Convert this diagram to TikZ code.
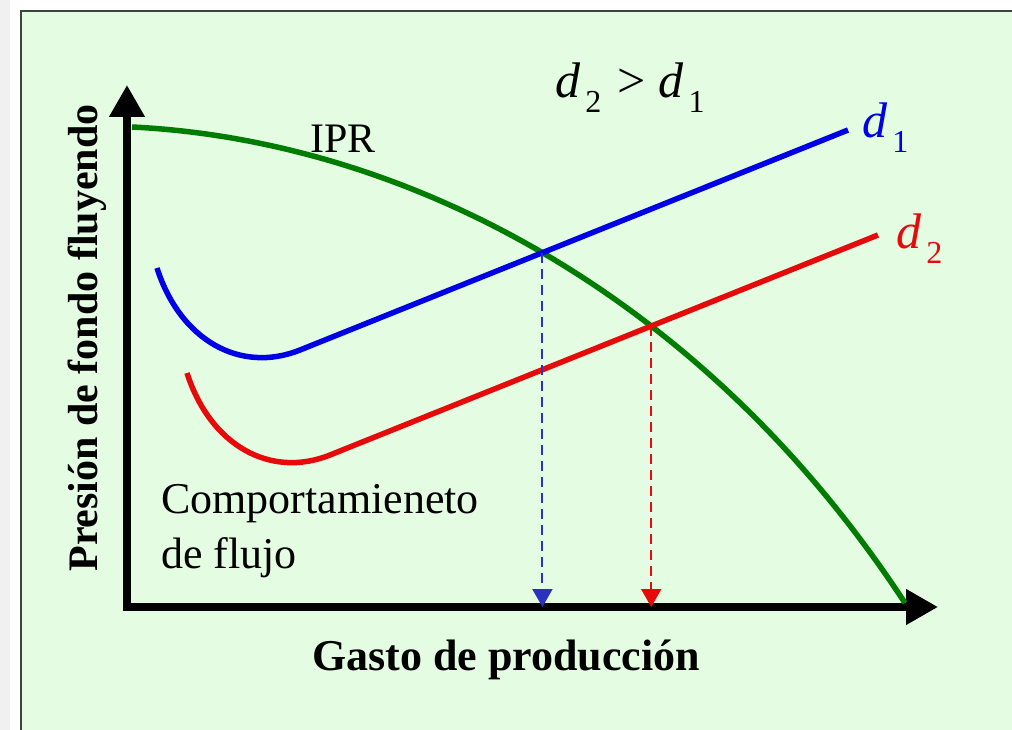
\documentclass[tikz,border=0pt]{standalone}
\usepackage{fontspec}
\setmainfont{Liberation Serif}
\usetikzlibrary{arrows.meta,intersections}

\definecolor{fondo}{RGB}{228,252,226}
\definecolor{marco}{RGB}{60,70,60}
\definecolor{verde}{RGB}{0,125,0}
\definecolor{azul}{RGB}{0,0,230}
\definecolor{azulguia}{RGB}{40,50,190}
\definecolor{rojo}{RGB}{230,10,10}

% d con subindice
\newcommand{\dsub}[1]{\textit{d}\kern5pt\raisebox{-15pt}{\fontsize{32}{32}\selectfont #1}}

\tikzset{
  eje/.style={line width=7.5pt, line join=miter,
    {Triangle[length=32pt,width=34pt]}-{Triangle[length=32pt,width=34pt]}},
  curva/.style={line width=5.5pt},
  guia/.style={line width=2pt, dash pattern=on 10pt off 6pt,
    -{Triangle[length=18pt,width=20pt]}},
  texto/.style={inner sep=0pt, anchor=base west}
}

\begin{document}
\begin{tikzpicture}[x=1pt, y=-1pt]
      \useasboundingbox (0,0) rectangle (1012,730);
      %
      \fill[white] (0,0) rectangle (1012,730);
      \fill[black!6] (0,0) rectangle (10,730);
      \filldraw[fill=fondo, draw=marco, line width=2pt] (21,11) rectangle (1030,750);   % cuadro
      %
      \coordinate (O) at (127,607);
      \coordinate (ytop) at (127,85);
      \coordinate (xend) at (938,607);
      \draw[eje] (ytop) |- (xend);   % ejes
      %
      % curva IPR
      \draw[curva, verde, name path=ipr] (132,127) .. controls (400,140) and (700,290) .. (905,603);
      %
      % comportamiento de flujo
      \def\flujo{(157,268) .. controls (180,340) and (240,374) .. (300,350) -- (848,130)}
      \draw[curva, azul, name path=d1] \flujo;
      \begin{scope}[shift={(30,105)}]
        \draw[curva, rojo, name path global=d2] \flujo;
      \end{scope}
      %
      \path[name intersections={of=ipr and d1, by=c1}];
      \path[name intersections={of=ipr and d2, by=c2}];
      \draw[guia, azulguia] (c1) -- (c1 |- O);
      \draw[guia, rojo] (c2) -- (c2 |- O);
      %
      \node[texto] (rel) at (555,98) {\fontsize{50}{50}\selectfont\dsub{2}\kern4pt{} \textgreater{} \dsub{1}};
      \node[texto, text=azul] (ld1) at (862,138) {\fontsize{50}{50}\selectfont\dsub{1}};
      \node[texto, text=rojo] (ld2) at (896,248) {\fontsize{50}{50}\selectfont\dsub{2}};
      \node[texto] (lipr) at (310,153) {\fontsize{42}{42}\selectfont IPR};
      \node[texto, align=left, font=\fontsize{44}{55}\selectfont] (lcomp) at (161,568)
        {Comportamieneto\\de flujo};
      \node[inner sep=0pt, anchor=base] (lx) at (506,670)
        {\fontsize{44}{44}\selectfont\bfseries Gasto de producción};
      \node[inner sep=0pt, anchor=base, rotate=90] (ly) at (97,338)
        {\fontsize{42}{42}\selectfont\bfseries Presión de fondo fluyendo};
      %
    \end{tikzpicture}
\end{document}
